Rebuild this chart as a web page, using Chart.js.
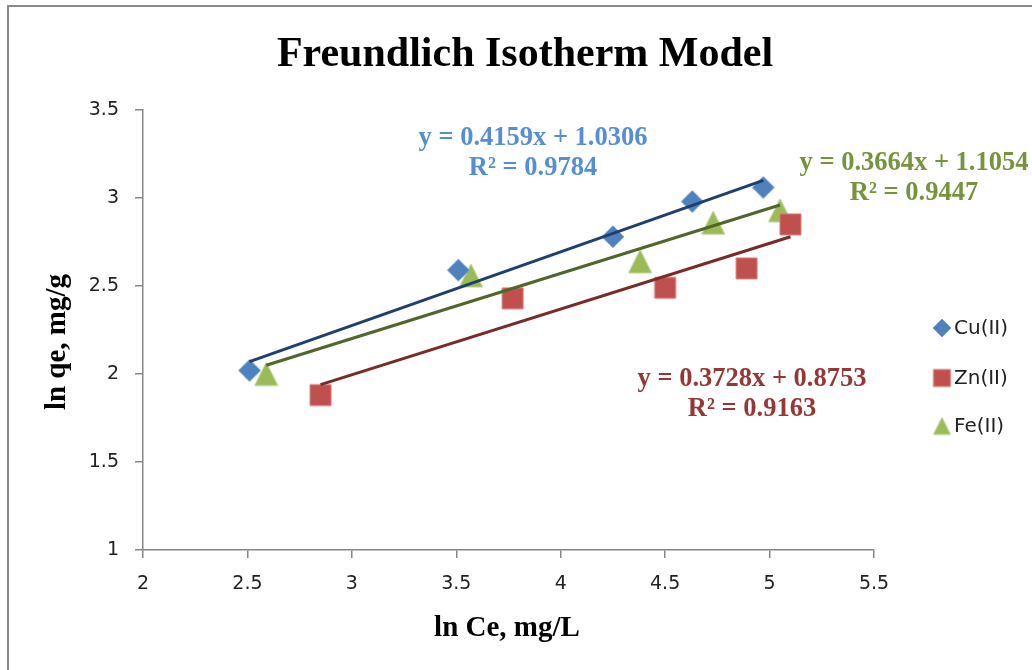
<!DOCTYPE html>
<html>
<head>
<meta charset="utf-8">
<script src="https://cdn.jsdelivr.net/npm/chart.js@4/dist/chart.umd.min.js"></script>
<style>
html, body { margin: 0; padding: 0; background: #fff; }
#wrap { width: 1032px; height: 670px; position: relative; }
</style>
</head>
<body>
<div id="wrap"><canvas id="myChart"></canvas></div>
<script>
const seriesNames = ['Cu(II)', 'Zn(II)', 'Fe(II)'];

const cuX = [2.51, 3.51, 4.25, 4.63, 4.97];
const cuY = [2.02, 2.59, 2.78, 2.98, 3.06];
const znX = [2.85, 3.77, 4.50, 4.89, 5.10];
const znY = [1.88, 2.43, 2.49, 2.60, 2.85];
const feX = [2.59, 3.57, 4.38, 4.73, 5.05];
const feY = [2.00, 2.56, 2.64, 2.86, 2.93];

// ends of the fitted trend lines
const cuTrendX = [2.51, 4.97];
const cuTrendY = [2.07, 3.10];
const znTrendX = [2.85, 5.10];
const znTrendY = [1.94, 2.78];
const feTrendX = [2.59, 5.05];
const feTrendY = [2.05, 2.96];

const equations = [
  ['y = 0.4159x + 1.0306', 'R² = 0.9784'],
  ['y = 0.3728x + 0.8753', 'R² = 0.9163'],
  ['y = 0.3664x + 1.1054', 'R² = 0.9447']
];

const xTickLabels = ['2', '2.5', '3', '3.5', '4', '4.5', '5', '5.5'];
const yTickLabels = ['1', '1.5', '2', '2.5', '3', '3.5'];

const markerFill = ['#4F81BD', '#C0504D', '#9BBB59'];
const markerEdge = ['#7FA3D2', '#D47E7B', '#B7CF86'];
const trendColor = ['#1F3F6E', '#7A2B29', '#50662A'];
const eqColor = ['#558ED5', '#953735', '#77933C'];
const eqPos = [[533, 145], [752, 386], [914, 170]];

function pts(xs, ys) {
  return xs.map((x, i) => ({ x: x, y: ys[i] }));
}

function makeMarker(kind, size, fill, edge) {
  const c = document.createElement('canvas');
  c.width = size + 4;
  c.height = size + 4;
  const g = c.getContext('2d');
  const m = c.width / 2, h = size / 2;
  g.beginPath();
  if (kind === 0) {
    g.moveTo(m, m - h); g.lineTo(m + h, m); g.lineTo(m, m + h); g.lineTo(m - h, m);
  } else if (kind === 1) {
    g.rect(m - h, m - h, size, size);
  } else {
    g.moveTo(m, m - h); g.lineTo(m + h, m + h); g.lineTo(m - h, m + h);
  }
  g.closePath();
  g.fillStyle = fill;
  g.fill();
  g.lineWidth = 1;
  g.strokeStyle = edge;
  g.stroke();
  return c;
}

const bigMarkers = [0, 1, 2].map(k => makeMarker(k, [22, 21, 23][k], markerFill[k], markerEdge[k]));
const smallMarkers = [0, 1, 2].map(k => makeMarker(k, [18, 17, 17][k], markerFill[k], markerEdge[k]));

const scatterSets = [pts(cuX, cuY), pts(znX, znY), pts(feX, feY)];
const trendSets = [pts(cuTrendX, cuTrendY), pts(znTrendX, znTrendY), pts(feTrendX, feTrendY)];

const datasets = [];
scatterSets.forEach((d, i) => {
  datasets.push({
    label: seriesNames[i],
    data: d,
    showLine: false,
    pointStyle: bigMarkers[i],
    pointRadius: 11,
    order: 1
  });
});
trendSets.forEach((d, i) => {
  datasets.push({
    label: seriesNames[i] + ' trend',
    data: d,
    showLine: true,
    borderColor: trendColor[i],
    borderWidth: 3,
    pointRadius: 0,
    order: 0
  });
});

const textPlugin = {
  id: 'textPlugin',
  beforeDraw(chart) {
    const ctx = chart.ctx;
    ctx.save();
    ctx.fillStyle = '#fff';
    ctx.fillRect(0, 0, chart.width, chart.height);
    ctx.fillStyle = '#8A8A8A';
    ctx.fillRect(7, 5, 2, chart.height);
    ctx.fillRect(7, 5, chart.width, 2);
    ctx.restore();
  },
  afterDraw(chart) {
    const ctx = chart.ctx;
    ctx.save();
    ctx.textAlign = 'center';
    ctx.textBaseline = 'alphabetic';
    ctx.fillStyle = '#000';
    ctx.font = 'bold 42px "Liberation Serif"';
    ctx.fillText('Freundlich Isotherm Model', 525, 66);

    ctx.font = 'bold 29px "Liberation Serif"';
    ctx.fillText('ln Ce, mg/L', 507, 636);
    ctx.save();
    ctx.translate(65, 342);
    ctx.rotate(-Math.PI / 2);
    ctx.fillText('ln qe, mg/g', 0, 0);
    ctx.restore();

    ctx.font = 'bold 26.5px "Liberation Serif"';
    equations.forEach((eq, i) => {
      ctx.fillStyle = eqColor[i];
      ctx.fillText(eq[0], eqPos[i][0], eqPos[i][1]);
      ctx.fillText(eq[1], eqPos[i][0], eqPos[i][1] + 30);
    });

    // legend
    ctx.textAlign = 'left';
    ctx.textBaseline = 'middle';
    ctx.font = '20px "DejaVu Sans"';
    ctx.fillStyle = '#222';
    const legY = [328, 378, 426];
    seriesNames.forEach((n, i) => {
      const m = smallMarkers[i];
      ctx.drawImage(m, 942 - m.width / 2, legY[i] - m.height / 2);
      ctx.fillText(n, 954, legY[i] + 1);
    });
    ctx.restore();
  }
};

const axisGray = '#868686';

new Chart(document.getElementById('myChart'), {
  type: 'scatter',
  data: { datasets: datasets },
  options: {
    responsive: true,
    maintainAspectRatio: false,
    animation: false,
    layout: { padding: { left: 0, right: 158, top: 110, bottom: 0 } },
    plugins: {
      legend: { display: false },
      title: { display: false },
      tooltip: { enabled: false }
    },
    scales: {
      x: {
        type: 'linear',
        min: 2,
        max: 5.5,
        afterFit: s => { s.height = 120; },
        afterBuildTicks: s => { s.ticks = xTickLabels.map(t => ({ value: parseFloat(t) })); },
        ticks: {
          callback: (v, i) => xTickLabels[i],
          font: { family: 'DejaVu Sans', size: 19 },
          color: '#222',
          padding: 15,
          maxRotation: 0
        },
        grid: { display: true, drawOnChartArea: false, drawTicks: true, tickLength: 8, color: axisGray, lineWidth: 1.5 },
        border: { display: true, color: axisGray, width: 1.5 }
      },
      y: {
        type: 'linear',
        min: 1,
        max: 3.5,
        afterFit: s => { s.width = 143; },
        afterBuildTicks: s => { s.ticks = yTickLabels.map(t => ({ value: parseFloat(t) })); },
        ticks: {
          callback: (v, i) => yTickLabels[i],
          font: { family: 'DejaVu Sans', size: 19 },
          color: '#222',
          padding: 16
        },
        grid: { display: true, drawOnChartArea: false, drawTicks: true, tickLength: 8, color: axisGray, lineWidth: 1.5 },
        border: { display: true, color: axisGray, width: 1.5 }
      }
    }
  },
  plugins: [textPlugin]
});
</script>
</body>
</html>
